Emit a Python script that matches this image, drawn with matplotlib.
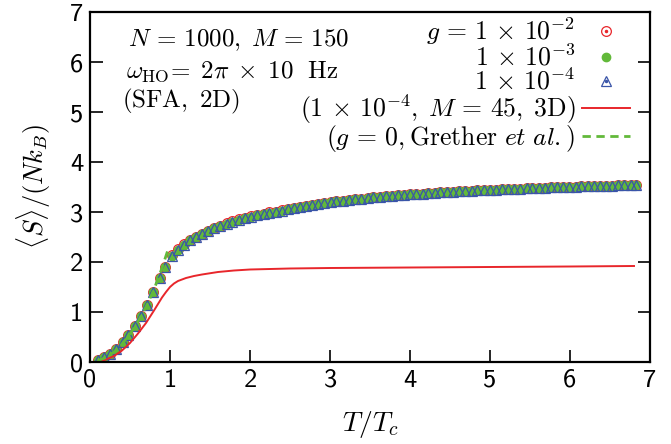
import matplotlib
matplotlib.use("Agg")
import matplotlib.pyplot as plt
from matplotlib.lines import Line2D
from matplotlib.legend_handler import HandlerTuple

plt.rcParams['mathtext.fontset'] = 'cm'
plt.rcParams['font.family'] = 'cmss10'
plt.rcParams['axes.unicode_minus'] = False

# reduced temperature T/Tc of the 2D SFA runs
t_2d = [0.10, 0.18, 0.25, 0.33, 0.41, 0.48, 0.56, 0.64, 0.71, 0.79,
        0.87, 0.94, 1.02, 1.10, 1.17, 1.25, 1.32, 1.40, 1.48, 1.55,
        1.63, 1.71, 1.78, 1.86, 1.94, 2.01, 2.09, 2.17, 2.24, 2.32,
        2.40, 2.47, 2.55, 2.63, 2.70, 2.78, 2.85, 2.93, 3.01, 3.08,
        3.16, 3.24, 3.31, 3.39, 3.47, 3.54, 3.62, 3.70, 3.77, 3.85,
        3.93, 4.00, 4.08, 4.16, 4.23, 4.31, 4.38, 4.46, 4.54, 4.61,
        4.69, 4.77, 4.84, 4.92, 5.00, 5.07, 5.15, 5.23, 5.30, 5.38,
        5.46, 5.53, 5.61, 5.69, 5.76, 5.84, 5.91, 5.99, 6.07, 6.14,
        6.22, 6.30, 6.37, 6.45, 6.53, 6.60, 6.68, 6.76, 6.83]

# entropy per particle <S>/(N kB) for g = 1e-2, 1e-3, 1e-4
s_g1e2 = [0.05, 0.10, 0.17, 0.27, 0.40, 0.54, 0.73, 0.93, 1.15, 1.41,
          1.68, 1.91, 2.14, 2.26, 2.36, 2.44, 2.51, 2.57, 2.63, 2.68,
          2.72, 2.77, 2.81, 2.85, 2.88, 2.91, 2.94, 2.96, 2.99, 3.01,
          3.04, 3.06, 3.08, 3.10, 3.12, 3.14, 3.16, 3.18, 3.19, 3.21,
          3.22, 3.24, 3.25, 3.26, 3.28, 3.29, 3.30, 3.31, 3.32, 3.33,
          3.34, 3.35, 3.36, 3.36, 3.37, 3.38, 3.39, 3.39, 3.40, 3.41,
          3.41, 3.42, 3.43, 3.43, 3.44, 3.44, 3.45, 3.45, 3.46, 3.46,
          3.47, 3.47, 3.48, 3.48, 3.49, 3.49, 3.49, 3.50, 3.50, 3.51,
          3.51, 3.51, 3.52, 3.52, 3.52, 3.53, 3.53, 3.53, 3.54]
s_g1e3 = [0.05, 0.10, 0.17, 0.27, 0.40, 0.54, 0.73, 0.93, 1.15, 1.41,
          1.68, 1.91, 2.13, 2.25, 2.35, 2.43, 2.50, 2.56, 2.62, 2.67,
          2.71, 2.76, 2.80, 2.84, 2.87, 2.90, 2.93, 2.96, 2.98, 3.01,
          3.03, 3.06, 3.08, 3.10, 3.12, 3.14, 3.16, 3.18, 3.19, 3.21,
          3.22, 3.24, 3.25, 3.26, 3.28, 3.29, 3.30, 3.31, 3.32, 3.33,
          3.34, 3.35, 3.36, 3.36, 3.37, 3.38, 3.39, 3.39, 3.40, 3.41,
          3.41, 3.42, 3.43, 3.43, 3.44, 3.44, 3.45, 3.45, 3.46, 3.46,
          3.47, 3.47, 3.48, 3.48, 3.49, 3.49, 3.49, 3.50, 3.50, 3.51,
          3.51, 3.51, 3.52, 3.52, 3.52, 3.53, 3.53, 3.53, 3.54]
s_g1e4 = [0.05, 0.10, 0.17, 0.27, 0.40, 0.54, 0.73, 0.93, 1.15, 1.41,
          1.68, 1.91, 2.13, 2.25, 2.35, 2.43, 2.50, 2.56, 2.62, 2.67,
          2.71, 2.76, 2.80, 2.84, 2.87, 2.90, 2.93, 2.96, 2.98, 3.01,
          3.03, 3.06, 3.08, 3.10, 3.12, 3.14, 3.16, 3.18, 3.19, 3.21,
          3.22, 3.24, 3.25, 3.26, 3.28, 3.29, 3.30, 3.31, 3.32, 3.33,
          3.34, 3.35, 3.36, 3.36, 3.37, 3.38, 3.39, 3.39, 3.40, 3.41,
          3.41, 3.42, 3.43, 3.43, 3.44, 3.44, 3.45, 3.45, 3.46, 3.46,
          3.47, 3.47, 3.48, 3.48, 3.49, 3.49, 3.49, 3.50, 3.50, 3.51,
          3.51, 3.51, 3.52, 3.52, 3.52, 3.53, 3.53, 3.53, 3.54]

# 3D run, g = 1e-4, M = 45
t_3d = [0.10, 0.15, 0.20, 0.30, 0.40, 0.50, 0.60, 0.70, 0.80, 0.90,
        0.95, 1.00, 1.05, 1.10, 1.20, 1.30, 1.40, 1.60, 1.80, 2.00,
        2.50, 3.00, 4.00, 5.00, 6.00, 6.80]
s_3d = [0.00, 0.02, 0.05, 0.12, 0.23, 0.38, 0.57, 0.78, 1.03, 1.29,
        1.40, 1.50, 1.57, 1.62, 1.68, 1.72, 1.75, 1.80, 1.83, 1.85,
        1.87, 1.88, 1.89, 1.90, 1.91, 1.92]

# ideal gas (g = 0) result of Grether et al., condensed phase
t_ideal = [0.10, 0.20, 0.30, 0.40, 0.50, 0.60, 0.70, 0.80, 0.90, 0.98]
s_ideal = [0.03, 0.09, 0.20, 0.36, 0.56, 0.81, 1.10, 1.45, 1.88, 2.27]

x_ticks = [0, 1, 2, 3, 4, 5, 6, 7]
y_ticks = [0, 1, 2, 3, 4, 5, 6, 7]

RED = '#e8262b'
GREEN = '#62b93a'
BLUE = '#3a55a8'

fig = plt.figure(figsize=(6.71, 4.44), dpi=100)
ax = fig.add_axes([90 / 671, 82 / 444, 560 / 671, 350 / 444])

c_red, = ax.plot(t_2d, s_g1e2, ls='none', marker='o', ms=7, mfc='none',
                 mec=RED, mew=0.9)
d_red = Line2D([], [], ls='none', marker='o', ms=1.5, color=RED)
c_green, = ax.plot(t_2d, s_g1e3, ls='none', marker='o', ms=6,
                   color=GREEN, mec=GREEN)
c_blue, = ax.plot(t_2d, s_g1e4, ls='none', marker='^', ms=6.5, mfc='none',
                  mec=BLUE, mew=0.9)
d_blue = Line2D([], [], ls='none', marker='o', ms=1.5, color=BLUE)
l_3d, = ax.plot(t_3d, s_3d, color=RED, lw=1.4)
l_ideal, = ax.plot(t_ideal, s_ideal, color=GREEN, lw=2.0, ls=(0, (3, 2)))

ax.set_xlim(0, 7)
ax.set_ylim(0, 7)
ax.set_xticks(x_ticks)
ax.set_yticks(y_ticks)
ax.set_xticklabels([str(v) for v in x_ticks])
ax.set_yticklabels([str(v) for v in y_ticks])
ax.tick_params(direction='in', length=9, width=1.2, labelsize=19,
               top=False, right=True, pad=5)
for sp in ax.spines.values():
    sp.set_linewidth(1.6)

ax.set_xlabel(r'$T/T_c$', fontsize=20, labelpad=12)
ax.set_ylabel(r'$\langle S\rangle/(Nk_B)$', fontsize=19, labelpad=12)

ax.text(0.068, 0.92, r'$N\,=\,1000,\; M\,=\,150$', transform=ax.transAxes,
        fontsize=18, va='center', ha='left')
ax.text(0.064, 0.829,
        r'$\omega_{\rm HO}\!=\;2\pi\;\times\;10\ \ {\rm Hz}$',
        transform=ax.transAxes, fontsize=18, va='center', ha='left')
ax.text(0.057, 0.743, r'$({\rm SFA,\ 2D})$', transform=ax.transAxes,
        fontsize=18, va='center', ha='left')

handles = [(c_red, d_red), c_green, (c_blue, d_blue), l_3d, l_ideal]
labels = [r'$g\,=\,1\,\times\,10^{-2}$', r'$1\,\times\,10^{-3}$',
          r'$1\,\times\,10^{-4}$',
          r'$(1\,\times\,10^{-4},\; M\,=\,45,\; 3{\rm D})$',
          r'$(g\,=\,0,{\rm Grether}\ \mathit{et\ al.})$']
ax.legend(handles, labels, loc='upper right', bbox_to_anchor=(0.965, 0.99),
          frameon=False, markerfirst=False, fontsize=18.5, numpoints=1,
          handlelength=1.9, handletextpad=0.25, labelspacing=-0.1,
          borderpad=0, borderaxespad=0,
          handler_map={tuple: HandlerTuple(ndivide=1)})

fig.savefig('out.png', dpi=100)
